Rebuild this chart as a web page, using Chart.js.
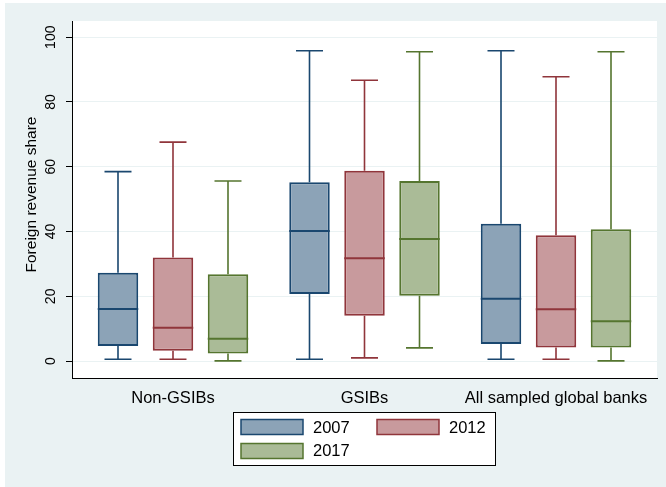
<!DOCTYPE html>
<html>
<head>
<meta charset="utf-8">
<script src="https://cdn.jsdelivr.net/npm/chart.js@4"></script>
<style>
  html, body { margin: 0; padding: 0; background: #ffffff; }
  canvas { display: block; }
</style>
</head>
<body>
<canvas id="c" width="666" height="487"></canvas>
<script>
// Groups on the x axis and the three survey years
const categories = ['Non-GSIBs', 'GSIBs', 'All sampled global banks'];
const seriesNames = ['2007', '2012', '2017'];
const yTicks = [0, 20, 40, 60, 80, 100];

// Box summaries per group: lower whisker, Q1, median, Q3, upper whisker
const low2007  = [0.6, 0.6, 0.6];
const q1_2007  = [4.7, 20.7, 5.3];
const med2007  = [16.1, 40.2, 19.3];
const q3_2007  = [27.3, 55.2, 42.4];
const high2007 = [58.5, 95.8, 95.8];

const low2012  = [0.6, 1.0, 0.6];
const q1_2012  = [3.2, 14.0, 4.2];
const med2012  = [10.3, 31.8, 16.0];
const q3_2012  = [32.0, 58.8, 38.9];
const high2012 = [67.6, 86.7, 87.8];

const low2017  = [0.1, 4.1, 0.1];
const q1_2017  = [2.4, 20.2, 4.2];
const med2017  = [6.9, 37.7, 12.3];
const q3_2017  = [26.8, 55.6, 40.7];
const high2017 = [55.6, 95.5, 95.5];

const lows    = [low2007, low2012, low2017];
const q1s     = [q1_2007, q1_2012, q1_2017];
const medians = [med2007, med2012, med2017];
const q3s     = [q3_2007, q3_2012, q3_2017];
const highs   = [high2007, high2012, high2017];

// Styling
const lineColors = ['#1a476f', '#90353b', '#55752f'];
const fillColors = ['#8ca3b7', '#c89a9d', '#aabb97'];
const FONT = '"Liberation Sans", Arial, Helvetica, sans-serif';
const PANEL = '#eaf2f3';

const datasets = seriesNames.map((name, s) => ({
  label: name,
  data: categories.map((c, i) => ({
    x: i,
    y: [q1s[s][i], q3s[s][i]],
    low: lows[s][i],
    med: medians[s][i],
    high: highs[s][i]
  })),
  backgroundColor: fillColors[s],
  borderColor: lineColors[s],
  borderWidth: 2,
  borderSkipped: false
}));

// Outer panel and white plot region
const panelPlugin = {
  id: 'panel',
  beforeDraw(chart) {
    const { ctx, chartArea: a } = chart;
    ctx.save();
    ctx.fillStyle = PANEL;
    ctx.fillRect(5, 3, chart.width - 5, chart.height - 3);
    ctx.fillStyle = '#ffffff';
    ctx.fillRect(a.left, a.top, a.right - a.left, a.bottom - a.top);
    ctx.restore();
  }
};

// Whiskers (under the boxes) and median lines (over the boxes)
const boxPartsPlugin = {
  id: 'boxParts',
  beforeDatasetsDraw(chart) {
    const ctx = chart.ctx, y = chart.scales.y;
    ctx.save();
    chart.data.datasets.forEach((ds, d) => {
      const meta = chart.getDatasetMeta(d);
      ctx.strokeStyle = ds.borderColor;
      ctx.lineWidth = 1.6;
      meta.data.forEach((bar, i) => {
        const p = ds.data[i];
        const x = bar.x;
        const yHigh = y.getPixelForValue(p.high);
        const yQ3 = y.getPixelForValue(p.y[1]);
        const yQ1 = y.getPixelForValue(p.y[0]);
        const yLow = y.getPixelForValue(p.low);
        const cap = 13.5;
        ctx.beginPath();
        ctx.moveTo(x, yQ3); ctx.lineTo(x, yHigh);
        ctx.moveTo(x - cap, yHigh); ctx.lineTo(x + cap, yHigh);
        ctx.moveTo(x, yQ1); ctx.lineTo(x, yLow);
        ctx.moveTo(x - cap, yLow); ctx.lineTo(x + cap, yLow);
        ctx.stroke();
      });
    });
    ctx.restore();
  },
  afterDatasetsDraw(chart) {
    const ctx = chart.ctx, y = chart.scales.y;
    ctx.save();
    chart.data.datasets.forEach((ds, d) => {
      const meta = chart.getDatasetMeta(d);
      ctx.strokeStyle = ds.borderColor;
      ctx.lineWidth = 2;
      meta.data.forEach((bar, i) => {
        const ym = y.getPixelForValue(ds.data[i].med);
        ctx.beginPath();
        ctx.moveTo(bar.x - bar.width / 2, ym);
        ctx.lineTo(bar.x + bar.width / 2, ym);
        ctx.stroke();
      });
    });
    ctx.restore();
  }
};

// Vertical y tick labels, y axis title and the boxed legend
const annotatePlugin = {
  id: 'annotate',
  afterDraw(chart) {
    const ctx = chart.ctx, y = chart.scales.y;
    ctx.save();
    ctx.fillStyle = '#000000';

    // tick labels, reading bottom to top
    ctx.font = '14px ' + FONT;
    ctx.textAlign = 'center';
    ctx.textBaseline = 'alphabetic';
    y.ticks.forEach(t => {
      const py = y.getPixelForValue(t.value);
      ctx.save();
      ctx.translate(55, py);
      ctx.rotate(-Math.PI / 2);
      ctx.fillText(String(t.value), 0, 0);
      ctx.restore();
    });

    // axis title
    ctx.font = '15.5px ' + FONT;
    ctx.save();
    ctx.translate(36, 194.5);
    ctx.rotate(-Math.PI / 2);
    ctx.fillText('Foreign revenue share', 0, 0);
    ctx.restore();

    // legend
    const L = { x: 233.5, y: 412.5, w: 262, h: 53 };
    ctx.fillStyle = '#ffffff';
    ctx.fillRect(L.x, L.y, L.w, L.h);
    ctx.strokeStyle = '#000000';
    ctx.lineWidth = 1;
    ctx.strokeRect(L.x, L.y, L.w, L.h);
    const slots = [
      { sx: 241, sy: 419.5, tx: 313, ty: 432.5 },
      { sx: 377, sy: 419.5, tx: 449, ty: 432.5 },
      { sx: 241, sy: 443.5, tx: 313, ty: 456 }
    ];
    ctx.font = '16.5px ' + FONT;
    ctx.textAlign = 'left';
    chart.data.datasets.forEach((ds, d) => {
      const s = slots[d];
      ctx.fillStyle = ds.backgroundColor;
      ctx.fillRect(s.sx, s.sy, 62, 15);
      ctx.strokeStyle = ds.borderColor;
      ctx.lineWidth = 1.5;
      ctx.strokeRect(s.sx, s.sy, 62, 15);
      ctx.fillStyle = '#000000';
      ctx.fillText(ds.label, s.tx, s.ty);
    });
    ctx.restore();
  }
};

new Chart(document.getElementById('c'), {
  type: 'bar',
  data: { datasets },
  plugins: [panelPlugin, boxPartsPlugin, annotatePlugin],
  options: {
    responsive: false,
    animation: false,
    devicePixelRatio: 1,
    layout: { padding: { left: 0, right: 9, top: 21, bottom: 79 } },
    datasets: { bar: { categoryPercentage: 0.8616, barPercentage: 0.736 } },
    plugins: { legend: { display: false }, tooltip: { enabled: false } },
    scales: {
      x: {
        type: 'linear',
        offset: false,
        min: -0.5274,
        max: 2.5274,
        afterBuildTicks(s) { s.ticks = categories.map((c, i) => ({ value: i })); },
        afterFit(s) { s.height = 30; },
        grid: { display: false, offset: false },
        border: { display: true, color: '#000000', width: 1 },
        ticks: {
          padding: 3,
          color: '#000000',
          autoSkip: false,
          maxRotation: 0,
          minRotation: 0,
          font: { family: FONT, size: 16.5 },
          callback: (v) => categories[v]
        }
      },
      y: {
        min: -5.2,
        max: 105,
        afterBuildTicks(s) { s.ticks = yTicks.map(v => ({ value: v })); },
        afterFit(s) { s.width = 72; },
        grid: { color: PANEL, lineWidth: 1, tickColor: '#000000', tickLength: 6, drawTicks: true },
        border: { color: '#000000', width: 1 },
        ticks: { display: false }
      }
    }
  }
});
</script>
</body>
</html>
